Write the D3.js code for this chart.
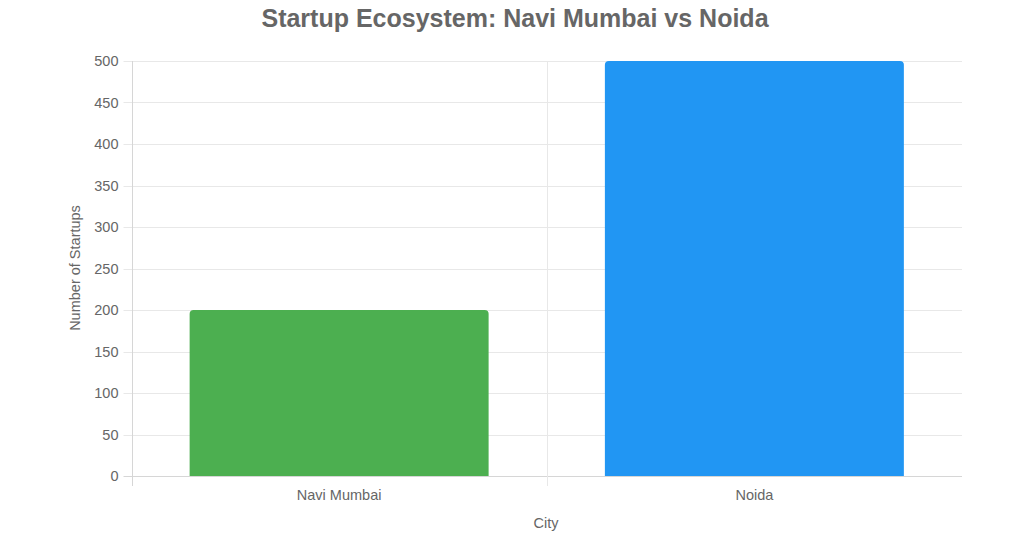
<!DOCTYPE html>
<html>
<head>
<meta charset="utf-8">
<script src="https://cdn.jsdelivr.net/npm/d3@7"></script>
<style>
	body { margin: 0; background: #fff; }
	svg text { font-family: "Liberation Sans", Arial, sans-serif; }
</style>
</head>
<body>
<svg id="chart" width="1024" height="538"></svg>
<script>
var cities = ["Navi Mumbai", "Noida"];
var startups = [200, 500];
var barColors = ["#4CAF50", "#2196F3"];
var yTicks = [0, 50, 100, 150, 200, 250, 300, 350, 400, 450, 500];

var svg = d3.select("#chart");
var plotLeft = 131.5, plotRight = 962, plotTop = 61, plotBottom = 476;

var x = d3.scaleBand().domain(cities).range([plotLeft, plotRight]);
var y = d3.scaleLinear().domain([0, 500]).range([plotBottom, plotTop]);

//horizontal grid + little tick marks on the left
svg.append("g").selectAll("line").data(yTicks).enter().append("line")
	.attr("x1", plotLeft - 8).attr("x2", plotRight)
	.attr("y1", function(d) { return Math.round(y(d)) + 0.5; })
	.attr("y2", function(d) { return Math.round(y(d)) + 0.5; })
	.attr("stroke", function(d) { return d === 0 ? "#d6d6d6" : "#e8e8e8"; })
	.attr("stroke-width", 1);

//vertical grid at category boundaries (the right edge has none)
var bounds = [plotLeft, plotLeft + x.step()];
svg.append("g").selectAll("line").data(bounds).enter().append("line")
	.attr("x1", function(d) { return Math.round(d) + 0.5; })
	.attr("x2", function(d) { return Math.round(d) + 0.5; })
	.attr("y1", plotTop)
	.attr("y2", plotBottom + 10)
	.attr("stroke", function(d, i) { return i === 0 ? "#d6d6d6" : "#e8e8e8"; })
	.attr("stroke-width", 1);

//bars, top corners rounded
var inner = x.bandwidth() * 0.72;
var r = 4;
svg.append("g").selectAll("path").data(cities).enter().append("path")
	.attr("d", function(c, i) {
		var x0 = x(c) + (x.bandwidth() - inner) / 2, x1 = x0 + inner;
		var y0 = y(startups[i]), y1 = y(0);
		return "M" + x0 + "," + y1 + "V" + (y0 + r) + "Q" + x0 + "," + y0 + " " + (x0 + r) + "," + y0 +
			"H" + (x1 - r) + "Q" + x1 + "," + y0 + " " + x1 + "," + (y0 + r) + "V" + y1 + "Z";
	})
	.attr("fill", function(c, i) { return barColors[i]; });

//y tick labels
svg.append("g").selectAll("text").data(yTicks).enter().append("text")
	.attr("x", plotLeft - 13).attr("y", function(d) { return y(d); })
	.attr("dy", "0.35em").attr("text-anchor", "end")
	.attr("font-size", 14.5).attr("fill", "#666")
	.text(function(d) { return d; });

//x tick labels
svg.append("g").selectAll("text").data(cities).enter().append("text")
	.attr("x", function(c) { return x(c) + x.bandwidth() / 2; })
	.attr("y", 500).attr("text-anchor", "middle")
	.attr("font-size", 14.5).attr("fill", "#666")
	.text(function(c) { return c; });

svg.append("text")
	.attr("x", 546).attr("y", 528).attr("text-anchor", "middle")
	.attr("font-size", 14.5).attr("fill", "#666").text("City");

svg.append("text")
	.attr("transform", "translate(80,268) rotate(-90)")
	.attr("text-anchor", "middle")
	.attr("font-size", 14.5).attr("fill", "#666").text("Number of Startups");

svg.append("text")
	.attr("x", 515).attr("y", 27).attr("text-anchor", "middle")
	.attr("font-size", 25).attr("font-weight", "bold").attr("fill", "#666")
	.text("Startup Ecosystem: Navi Mumbai vs Noida");
</script>
</body>
</html>
